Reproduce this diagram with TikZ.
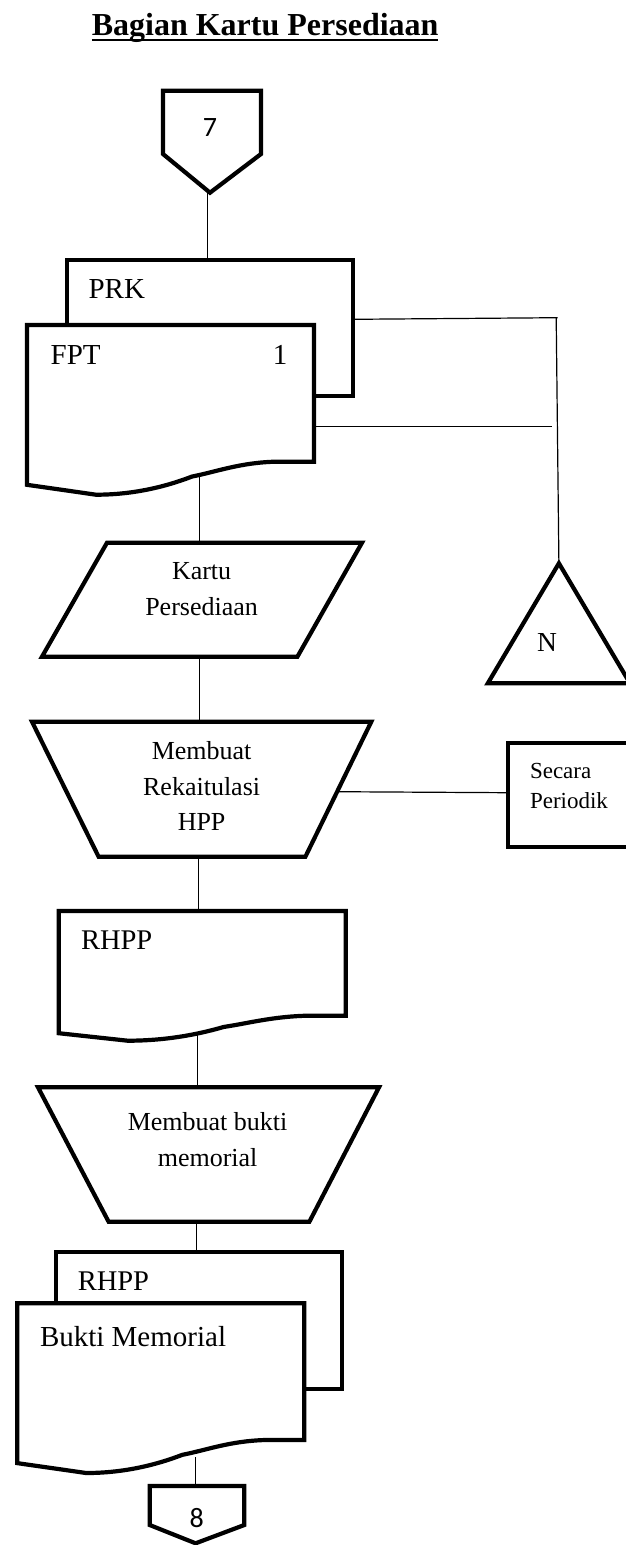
\documentclass[tikz,border=0pt]{standalone}
\usepackage{fontspec}
\setmainfont{Liberation Serif}
\newfontfamily\carl{Carlito}
\newcommand{\docshape}[4]{%
  \begin{scope}[shift={(#1,#2)}]
    \draw[shapeline] (0,0) -- (287,0) -- (287,#3) -- (248,#3)
      .. controls (213,{#3+1}) and (190,{#3+0.3*#4}) .. (165,{#3+0.45*#4})
      .. controls (135,{#3+0.8*#4}) and (103,{#3+#4}) .. (69,{#3+#4})
      -- (0,{#3+0.7*#4}) -- cycle;
  \end{scope}}
\begin{document}
\begin{tikzpicture}[x=1pt,y=-1pt,
  shapeline/.style={line width=4.2pt, fill=white, line join=miter},
  conn/.style={line width=1.2pt},
  txt/.style={inner sep=0pt, outer sep=0pt},
  lbl/.style={txt, font=\fontsize{29}{34}\selectfont},
  mid/.style={txt, align=center, font=\fontsize{26}{35.8}\selectfont},
  num/.style={txt, font=\carl\fontsize{28}{32}\selectfont}]
\useasboundingbox (0,0) rectangle (626,1545);
\clip (0,0) rectangle (626,1545);

% ---- connection points
\coordinate (c7tip) at (207.6,192.7);
\coordinate (prktop) at (207.6,262);
\coordinate (prkR) at (353,319.3);
\coordinate (corner) at (557.7,317.7);
\coordinate (ntop) at (558.9,563.3);
\coordinate (fptR) at (314,426.7);
\coordinate (fptRend) at (552,426.7);
\coordinate (fptwave) at (199.6,474);
\coordinate (kartop) at (199.6,542.7);
\coordinate (karbot) at (199.2,656.7);
\coordinate (mr1top) at (199.2,721.7);
\coordinate (mr1R) at (337.3,791.7);
\coordinate (secL) at (507.8,792.7);
\coordinate (mr1bot) at (198.4,856.7);
\coordinate (rhpptop) at (198.4,911);
\coordinate (rhppwave) at (197.6,1033);
\coordinate (mb2top) at (197.6,1087.3);
\coordinate (mb2bot) at (196.8,1221.7);
\coordinate (rhpp2top) at (196.8,1251.7);
\coordinate (bmwave) at (195.6,1457);
\coordinate (c8top) at (195.6,1486);

% ---- connectors
\draw[conn] (c7tip) -- (prktop);
\draw[conn] (prkR) -- (corner);
\draw[conn] ([xshift=-1.5pt]corner) -- (ntop);
\draw[conn] (fptR) -- (fptRend);
\draw[conn] (fptwave) -- (kartop);
\draw[conn] (karbot) -- (mr1top);
\draw[conn] (mr1R) -- (secL);
\draw[conn] (mr1bot) -- (rhpptop);
\draw[conn] (rhppwave) -- (mb2top);
\draw[conn] (mb2bot) -- (rhpp2top);
\draw[conn] (bmwave) -- (c8top);

% ---- shapes
\draw[shapeline] (163,90.7) -- (261,90.7) -- (261,154) -- (210,192.7) -- (163,154) -- cycle;
\draw[shapeline] (66.7,260) rectangle (353,396);
\docshape{27}{325}{136.7}{33}
\draw[shapeline] (107,542.7) -- (362,542.7) -- (297.4,656.7) -- (42,656.7) -- cycle;
\draw[shapeline] (558.9,563.3) -- (630,683.3) -- (487.8,683.3) -- cycle;
\draw[shapeline] (32,721.7) -- (371.3,721.7) -- (305.4,856.7) -- (98.6,856.7) -- cycle;
\draw[shapeline] (507.8,742.7) rectangle (640,847);
\docshape{58.7}{911}{104.7}{25}
\draw[shapeline] (38,1087.3) -- (379,1087.3) -- (309.4,1221.7) -- (108.6,1221.7) -- cycle;
\draw[shapeline] (55.9,1251.7) rectangle (342,1389);
\docshape{17.2}{1303.3}{136.7}{33}
\draw[shapeline] (149.7,1486) -- (244.3,1486) -- (244.3,1525) -- (195.6,1543.3) -- (149.7,1525) -- cycle;

% ---- texts
\node[txt, anchor=base west, font=\bfseries\fontsize{32}{38}\selectfont] (title) at (91.8,35) {Bagian Kartu Persediaan};
\draw[line width=2.6pt] ([yshift=-5pt]title.base west) -- ([yshift=-5pt]title.base east);
\node[num] (t7) at (210,127.7) {7};
\node[lbl, anchor=base west] (tprk) at (88.6,298.3) {PRK};
\node[lbl, anchor=base west] (tfpt) at (50.7,364) {FPT};
\node[lbl, anchor=base] (tone) at (280,364) {1};
\node[mid] (tkartu) at (201.6,589.5) {Kartu\\Persediaan};
\node[txt, font=\fontsize{27.5}{32}\selectfont] (tn) at (547,642.7) {N};
\node[mid] (tmr) at (201.6,786) {Membuat\\Rekaitulasi\\HPP};
\node[txt, anchor=west, align=left, font=\fontsize{23}{30}\selectfont] (tsec) at (530,785.7) {Secara\\Periodik};
\node[lbl, anchor=base west, font=\fontsize{28.5}{34}\selectfont] (trhpp) at (81,949.3) {RHPP};
\node[mid] (tmb) at (207.6,1139.5) {Membuat bukti\\memorial};
\node[lbl, anchor=base west, font=\fontsize{28.5}{34}\selectfont] (trhpp2) at (77.8,1290.7) {RHPP};
\node[lbl, anchor=base west] (tbm) at (40,1346.7) {Bukti Memorial};
\node[num] (t8) at (196.8,1518.3) {8};
\end{tikzpicture}
\end{document}
